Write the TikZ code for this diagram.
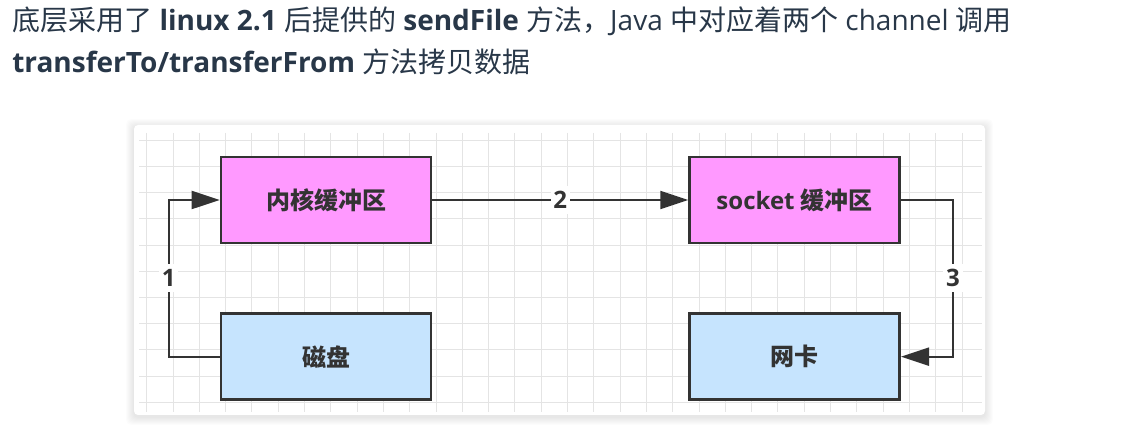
\documentclass[tikz,border=0pt]{standalone}
\usepackage{fontspec}
\setmainfont{Open Sans}
\newfontfamily\cjk{Noto Sans CJK SC}
\usepackage{tikz}
\usetikzlibrary{arrows.meta,positioning}
\definecolor{inkcolor}{RGB}{40, 55, 72}
\definecolor{boxline}{RGB}{51, 51, 51}
\definecolor{buffercolor}{RGB}{255, 153, 255}
\definecolor{devicecolor}{RGB}{198, 228, 254}
\definecolor{gridcolor}{RGB}{228, 228, 228}
\newcommand{\zh}[1]{{\cjk #1}}

\begin{document}
\begin{tikzpicture}[
    x=0.75pt, y=-0.75pt,
    buffer/.style={draw=boxline, line width=2pt, fill=buffercolor, minimum width=157.5pt, minimum height=64.5pt, text=boxline, font=\fontsize{18pt}{22pt}\selectfont\bfseries},
    device/.style={buffer, fill=devicecolor},
    flow/.style={draw=boxline, line width=1.5pt, -{Triangle[length=21pt, width=13.5pt]}},
    num/.style={fill=white, text=boxline, inner xsep=2pt, inner ysep=4pt, font=\fontsize{18pt}{22pt}\selectfont\bfseries},
    toptext/.style={anchor=base west, inner sep=0pt, text=inkcolor, font=\fontsize{21pt}{26pt}\selectfont},
    node distance=51pt and 192pt
]
    \useasboundingbox (0,0) rectangle (1133,434);

    % Text above
    \node[toptext] (line1) at (12,31) {\zh{底层采用了} \textbf{linux 2.1} \zh{后提供的} \textbf{sendFile} \zh{方法，}Java \zh{中对应着两个} channel \zh{调用}};
    \node[toptext] (line2) at (12,73) {\textbf{transferTo/transferFrom} \zh{方法拷贝数据}};

    % Card with shadow and grid
    \foreach \s in {1,...,8}
        \fill[black, opacity=0.012, rounded corners=4pt] ({134-\s},{127-\s}) rectangle ({985+\s},{417+\s});
    \fill[white, rounded corners=3pt] (134,125) rectangle (985,415);
    \begin{scope}
        \clip (139,133) rectangle (982,412);
        \foreach \gx in {0,...,32}
            \draw[gridcolor, line width=0.75pt] ({146.7+26.3*\gx},133) -- ++(0,279);
        \foreach \gy in {0,...,10}
            \draw[gridcolor, line width=0.75pt] (139,{140.3+26.2*\gy}) -- ++(843,0);
    \end{scope}

    % Buffers and devices
    \node[buffer] (kernel) at (326,200) {\zh{内核缓冲区}};
    \node[device, below=of kernel] (disk) {\zh{磁盘}};
    \node[buffer, right=of kernel] (socket) {socket \zh{缓冲区}};
    \node[device, below=of socket] (nic) {\zh{网卡}};

    % Copies
    \draw[flow] (disk.west) -- ++(-51,0) |- (kernel.west) node[num, pos=0.25] (one) {1};
    \draw[flow] (kernel) -- (socket) node[num, midway] (two) {2};
    \draw[flow] (socket.east) -- ++(52,0) |- (nic.east) node[num, pos=0.25] (three) {3};
\end{tikzpicture}
\end{document}
